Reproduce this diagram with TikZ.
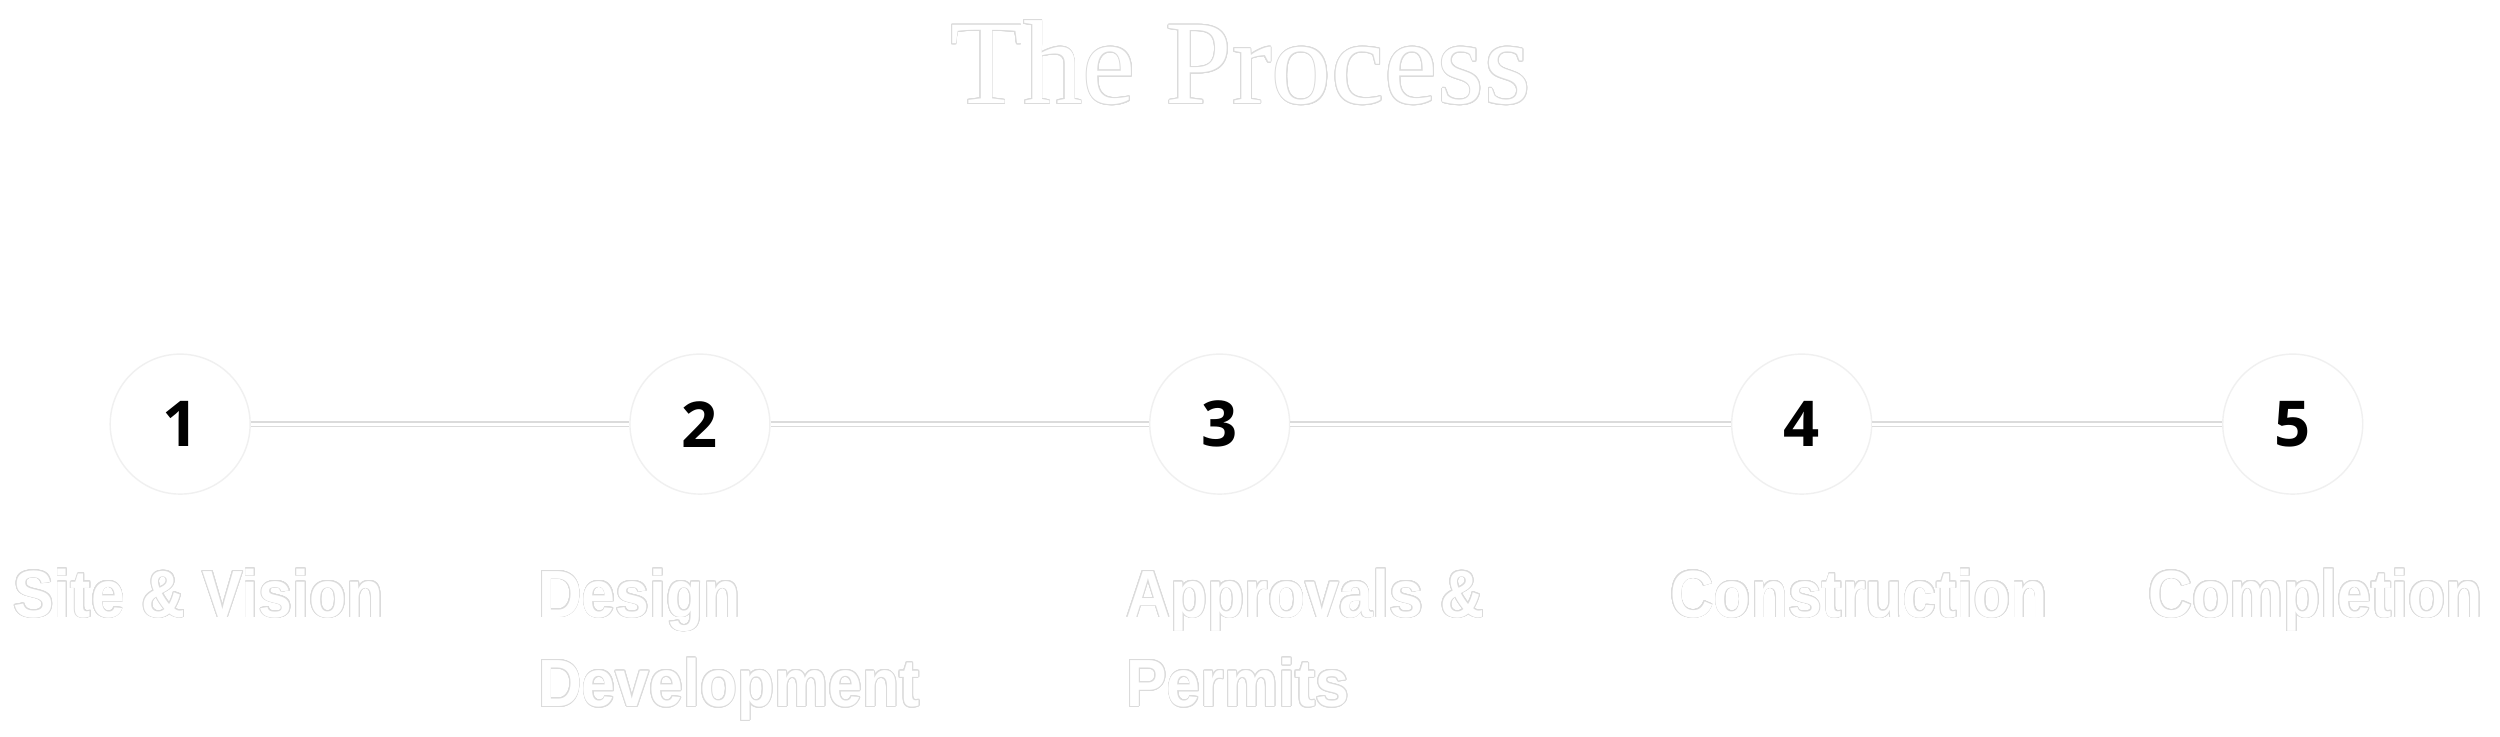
\documentclass[tikz,border=0pt]{standalone}
\usepackage{fontspec}
\setmainfont{Liberation Serif}
\newfontfamily\numfont{Open Sans}
\newfontfamily\labfont[FakeStretch=0.91]{Liberation Sans}
\usepackage{contour}
\contourlength{0.25pt}
\contournumber{20}
\newcommand{\outl}[1]{\contour{gray!28}{#1}}
\tikzset{
  titletext/.style={anchor=base, inner sep=0pt, text=white, font=\fontsize{34}{40}\selectfont},
  stepcirc/.style={circle, minimum size=1.40cm, inner sep=0pt, fill=white, draw=gray!12, line width=0.4pt, text=black, font=\numfont\bfseries\fontsize{18}{22}\selectfont},
  labtext/.style={anchor=base west, align=left, inner sep=0pt, text=white, font=\labfont\bfseries\fontsize{19}{25.4}\selectfont},
  conn/.style={draw=gray!28, line width=0.35pt, double=white, double distance=0.9pt}
}
\begin{document}
\begin{tikzpicture}[x=0.01594cm, y=-0.01594cm]
\fill[white] (0,0) rectangle (1568,462);
\useasboundingbox (0,0) rectangle (1568,462);
\node[titletext] (title) at (778,65) {\outl{The Process}};
\node[stepcirc] (c1) at (113,266) {1};
\node[stepcirc] (c2) at (439,266) {2};
\node[stepcirc] (c3) at (765,266) {3};
\node[stepcirc] (c4) at (1130,266) {4};
\node[stepcirc] (c5) at (1438,266) {5};
\draw[conn] (c1) -- (c2);
\draw[conn] (c2) -- (c3);
\draw[conn] (c3) -- (c4);
\draw[conn] (c4) -- (c5);
\node[labtext] (l1) at (8,387) {\outl{Site \& Vision}};
\node[labtext] (l2) at (337,443) {\outl{Design}\\\outl{Development}};
\node[labtext] (l3) at (706,443) {\outl{Approvals \&}\\\outl{Permits}};
\node[labtext] (l4) at (1047,387) {\outl{Construction}};
\node[labtext] (l5) at (1347,387) {\outl{Completion}};
\end{tikzpicture}
\end{document}
